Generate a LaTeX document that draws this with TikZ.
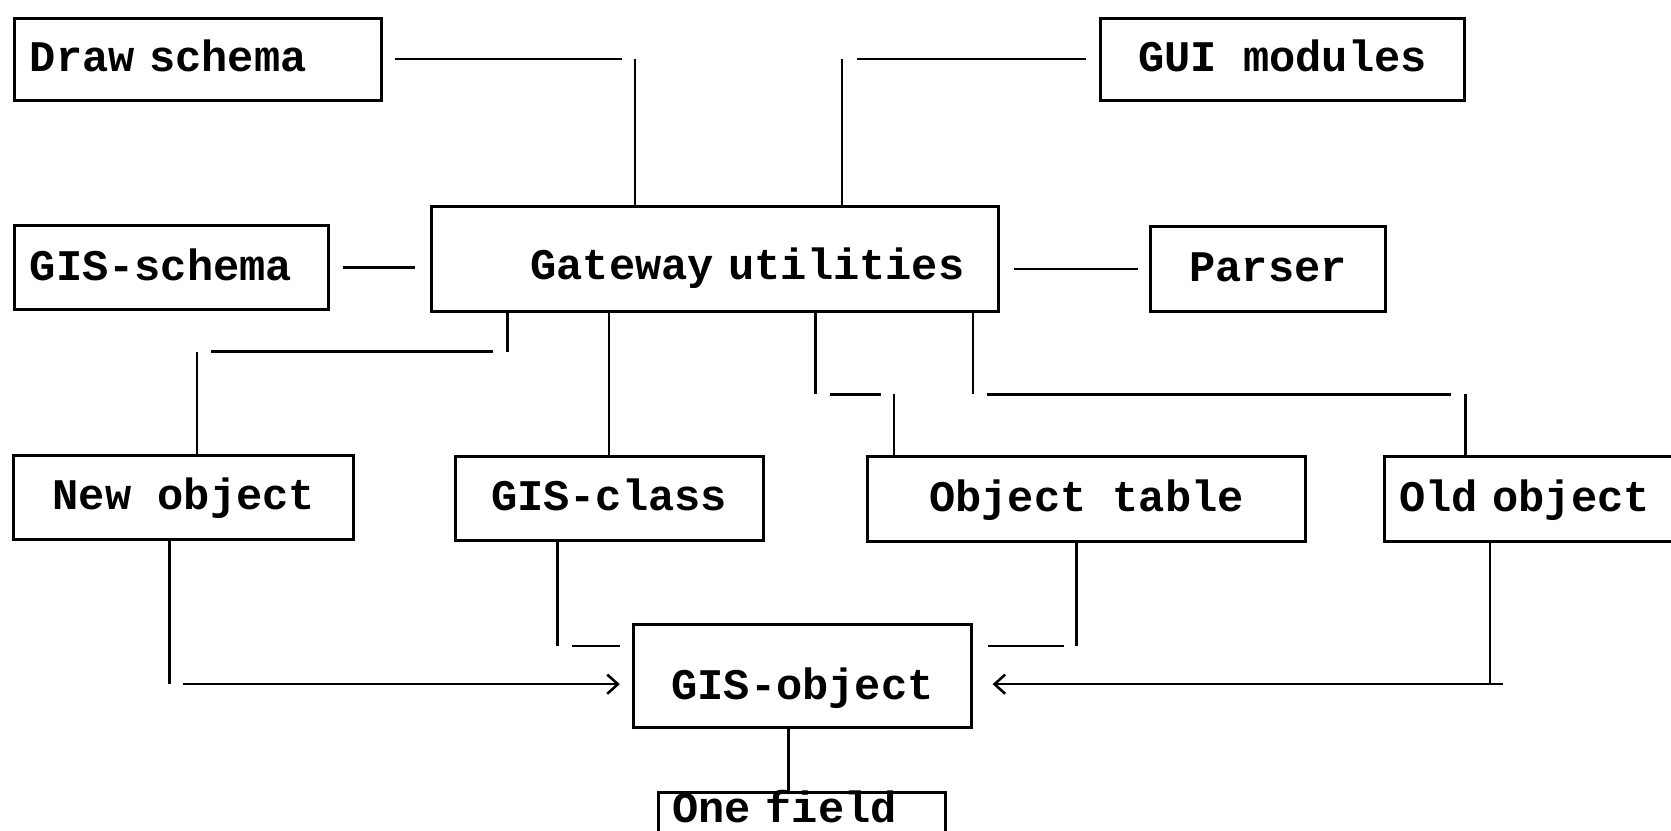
\documentclass[tikz,border=0pt]{standalone}
\usepackage{fontspec}
\setmonofont{Liberation Mono}[WordSpace={1,0,0}]
\usetikzlibrary{arrows.meta}
\begin{document}
\begin{tikzpicture}[x=0.5pt,y=0.5pt,yscale=-1,xscale=1,
  box/.style={draw, line width=1.4pt, minimum height=39.5pt, inner xsep=7pt,
    text height=12pt, text depth=0pt, font=\ttfamily\bfseries\fontsize{20.5}{24}\selectfont},
  link/.style={line width=1.2pt},
  arr/.style={link, -{Straight Barb[length=5pt,width=9pt]}}]
\path[use as bounding box, clip] (0,0) rectangle (1568,779);

%Shape: Rectangle [Draw schema]
\node[box, text width=158pt, align=left, minimum height=38.5pt] (ds) at (186,55.5) {Draw schema};
%Shape: Rectangle [GUI modules]
\node[box, minimum width=170.5pt, minimum height=38.5pt] (gui) at (1203.5,55.5) {GUI modules};
%Shape: Rectangle [GIS-schema]
\node[box, text width=133pt, align=left, minimum height=39pt] (gs) at (161,251) {GIS-schema};
%Shape: Rectangle [Gateway utilities]
\node[box, inner xsep=16pt, text width=234pt, align=right, minimum height=49pt, text height=19pt] (gw) at (671,243) {Gateway utilities};
%Shape: Rectangle [Parser]
\node[box, minimum width=110pt] (pa) at (1190,252.5) {Parser};
%Shape: Rectangle [New object]
\node[box, minimum width=159.5pt] (no) at (172.5,466.5) {New object};
%Shape: Rectangle [GIS-class]
\node[box, minimum width=144.5pt] (gc) at (571.5,467.5) {GIS-class};
%Shape: Rectangle [Object table]
\node[box, minimum width=205.5pt, minimum height=40pt] (ot) at (1019.5,468) {Object table};
%Shape: Rectangle [Old object]
\node[box, text width=136pt, align=left, minimum height=40pt] (oo) at (1449,468) {Old object};
%Shape: Rectangle [GIS-object]
\node[box, minimum width=159pt, minimum height=48.5pt, text height=22pt] (go) at (753,634.5) {GIS-object};
%Shape: Rectangle [One field]
\node[box, anchor=north, text width=121.5pt, inner xsep=6.5pt, align=left, inner ysep=2pt, text depth=20pt, minimum height=0pt] (of) at (752.5,742) {One field};

% Connectors into Gateway utilities
\coordinate (ds-c) at (596,55.5);
\draw[link, shorten <=5.5pt, shorten >=6pt] (ds.east) -- (ds-c);
\draw[link] (ds-c) -- (ds-c |- gw.north);
\coordinate (gui-c) at (790,55.5);
\draw[link, shorten <=6.5pt, shorten >=7pt] (gui.west) -- (gui-c);
\draw[link] (gui-c) -- (gui-c |- gw.north);
\draw[link, shorten <=6pt, shorten >=7pt] (gs.east) -- (gs.east -| gw.west);
\draw[link, shorten <=6.5pt, shorten >=5.5pt] (gw.east |- pa.west) -- (pa.west);

% Connectors out of Gateway utilities
\coordinate (no-a) at (476,330);
\coordinate (no-b) at (185,330);
\draw[link] (no-a |- gw.south) -- (no-a);
\draw[link, shorten <=6.5pt, shorten >=6.5pt] (no-a) -- (no-b);
\draw[link] (no-b) -- (no-b |- no.north);
\draw[link] (gc.north |- gw.south) -- (gc.north);
\coordinate (ot-a) at (765,370);
\coordinate (ot-b) at (839,370);
\draw[link] (ot-a |- gw.south) -- (ot-a);
\draw[link, shorten <=7pt, shorten >=6pt] (ot-a) -- (ot-b);
\draw[link] (ot-b) -- (ot-b |- ot.north);
\coordinate (oo-a) at (913,370);
\coordinate (oo-b) at (1375,370);
\draw[link] (oo-a |- gw.south) -- (oo-a);
\draw[link, shorten <=6.5pt, shorten >=6.5pt] (oo-a) -- (oo-b);
\draw[link] (oo-b) -- (oo-b |- oo.north);

% Connectors into GIS-object
\coordinate (no-c) at (159,642);
\draw[link] (no-c |- no.south) -- (no-c);
\draw[arr, shorten <=6.5pt, shorten >=5.5pt] (no-c) -- (no-c -| go.west);
\coordinate (gc-c) at (523,606);
\draw[link] (gc-c |- gc.south) -- (gc-c);
\draw[link, shorten <=7pt, shorten >=5.5pt] (gc-c) -- (gc-c -| go.west);
\coordinate (ot-c) at (1010,606);
\draw[link] (ot-c |- ot.south) -- (ot-c);
\draw[link, shorten <=6pt, shorten >=7pt] (ot-c) -- (ot-c -| go.east);
\coordinate (oo-c) at (1398,642);
\draw[link] (oo-c |- oo.south) -- (oo-c);
\draw[arr, shorten >=9pt] ([xshift=6pt]oo-c) -- (oo-c -| go.east);

% GIS-object to One field
\draw[link] ([xshift=-6.25pt]of.north) -- ([xshift=-6.25pt]of.north |- go.south);

\end{tikzpicture}
\end{document}
